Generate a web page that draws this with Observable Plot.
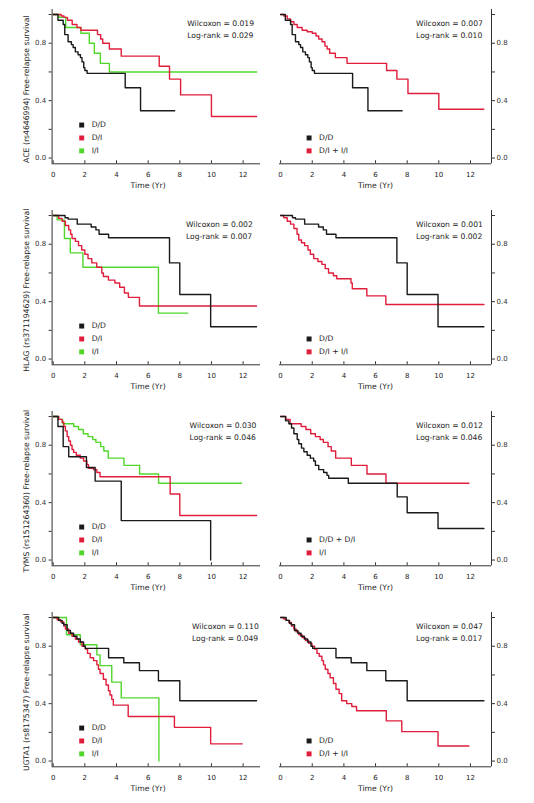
<!DOCTYPE html>
<html><head><meta charset="utf-8">
<script src="https://cdn.jsdelivr.net/npm/d3@7"></script>
<script src="https://cdn.jsdelivr.net/npm/@observablehq/plot@0.6"></script>
<style>
html,body{margin:0;padding:0;background:#fff;}
#chart{position:relative;width:534px;height:803px;overflow:hidden;background:#fff;}
#chart svg{position:absolute;}
</style></head><body><div id="chart"></div>
<script>
// ---------- data: Kaplan-Meier steps [time (yr), survival] ----------
const aceDD  = [[0,1],[0.3,0.96],[0.63,0.93],[0.73,0.86],[0.94,0.81],[1.15,0.79],[1.26,0.77],[1.4,0.74],[1.57,0.72],[1.72,0.70],[1.82,0.67],[1.93,0.63],[2.0,0.61],[2.14,0.59],[4.55,0.49],[5.52,0.33],[7.68,0.33]];
const aceDI  = [[0,1],[0.5,0.99],[0.68,0.98],[0.9,0.96],[1.2,0.93],[1.5,0.91],[1.75,0.89],[2.8,0.86],[3.0,0.83],[3.13,0.80],[3.55,0.76],[4.3,0.71],[6.7,0.64],[7.35,0.55],[8.05,0.44],[10.0,0.29],[12.85,0.29]];
const aceII  = [[0,1],[0.36,0.98],[0.79,0.91],[1.75,0.87],[2.28,0.80],[2.6,0.73],[2.98,0.66],[3.55,0.60],[12.85,0.60]];
const aceDII = [[0,1],[0.2,0.99],[0.42,0.97],[0.63,0.95],[0.84,0.93],[1.05,0.91],[1.36,0.89],[1.68,0.88],[2.0,0.87],[2.24,0.85],[2.41,0.83],[2.62,0.81],[2.8,0.78],[2.94,0.76],[3.1,0.73],[3.46,0.70],[4.2,0.66],[6.7,0.61],[7.35,0.55],[8.05,0.45],[10.0,0.34],[12.85,0.34]];

const hlagDD  = [[0,1],[0.75,0.985],[0.94,0.975],[1.52,0.94],[2.4,0.92],[2.7,0.90],[2.9,0.87],[3.5,0.845],[7.35,0.67],[8.0,0.45],[9.95,0.225],[12.85,0.225]];
const hlagDI  = [[0,1],[0.35,0.98],[0.56,0.96],[0.77,0.93],[0.98,0.90],[1.1,0.87],[1.19,0.84],[1.4,0.82],[1.6,0.79],[1.8,0.76],[2.0,0.73],[2.2,0.70],[2.44,0.67],[2.75,0.64],[3.07,0.60],[3.17,0.575],[3.49,0.55],[3.9,0.53],[4.2,0.50],[4.5,0.46],[4.75,0.43],[5.45,0.37],[12.85,0.37]];
const hlagII  = [[0,1],[0.25,0.97],[0.71,0.84],[1.08,0.74],[1.88,0.64],[6.65,0.32],[8.5,0.32]];
const hlagDII = [[0,1],[0.2,0.985],[0.42,0.96],[0.63,0.94],[0.84,0.91],[1.04,0.87],[1.15,0.83],[1.32,0.81],[1.52,0.79],[1.73,0.76],[1.88,0.73],[2.09,0.70],[2.36,0.68],[2.61,0.66],[2.82,0.63],[3.03,0.60],[3.34,0.58],[3.55,0.56],[4.45,0.53],[4.53,0.49],[5.45,0.44],[6.65,0.38],[12.85,0.38]];

const tymsDD  = [[0,1],[0.3,0.93],[0.63,0.79],[0.98,0.72],[2.1,0.645],[2.65,0.55],[4.3,0.275],[9.95,0.0]];
const tymsDI  = [[0,1],[0.35,0.98],[0.56,0.96],[0.67,0.93],[0.77,0.90],[0.88,0.86],[0.98,0.83],[1.09,0.80],[1.19,0.77],[1.29,0.75],[1.46,0.73],[1.71,0.71],[1.92,0.69],[2.13,0.665],[2.23,0.64],[2.55,0.63],[2.76,0.61],[2.96,0.58],[7.39,0.46],[8.0,0.31],[12.85,0.31]];
const tymsII  = [[0,1],[0.33,0.98],[0.6,0.95],[1.3,0.93],[1.6,0.91],[1.9,0.88],[2.2,0.86],[2.5,0.84],[2.7,0.82],[3.0,0.79],[3.2,0.76],[3.48,0.71],[4.47,0.66],[5.46,0.60],[6.66,0.535],[11.9,0.535]];
const tymsDDI = [[0,1],[0.31,0.97],[0.52,0.95],[0.69,0.92],[0.84,0.88],[1.05,0.84],[1.15,0.81],[1.32,0.78],[1.47,0.755],[1.68,0.73],[1.88,0.71],[2.09,0.69],[2.2,0.66],[2.41,0.63],[2.72,0.61],[2.93,0.59],[3.04,0.57],[4.28,0.535],[7.37,0.44],[8.0,0.33],[9.95,0.22],[12.85,0.22]];

const ugtDD  = [[0,1],[0.35,0.98],[0.56,0.96],[0.67,0.95],[0.88,0.91],[1.09,0.89],[1.29,0.87],[1.5,0.85],[1.71,0.83],[1.92,0.80],[2.03,0.785],[3.5,0.72],[4.46,0.685],[5.45,0.63],[6.65,0.56],[8.0,0.42],[12.85,0.42]];
const ugtDI  = [[0,1],[0.25,0.985],[0.46,0.97],[0.67,0.94],[0.77,0.92],[0.98,0.89],[1.19,0.87],[1.4,0.85],[1.6,0.83],[1.82,0.80],[2.03,0.78],[2.17,0.75],[2.34,0.72],[2.55,0.70],[2.76,0.67],[2.86,0.64],[2.96,0.61],[3.17,0.57],[3.34,0.53],[3.49,0.49],[3.59,0.46],[3.7,0.43],[3.8,0.39],[4.74,0.31],[7.66,0.235],[9.95,0.12],[11.95,0.12]];
const ugtII  = [[0,1],[0.84,0.88],[1.71,0.81],[2.76,0.74],[2.96,0.665],[3.7,0.55],[4.3,0.44],[6.68,0.0]];
const ugtDII = [[0,1],[0.2,0.99],[0.35,0.98],[0.52,0.965],[0.69,0.94],[0.84,0.92],[0.98,0.90],[1.15,0.88],[1.36,0.86],[1.57,0.84],[1.77,0.82],[1.98,0.80],[2.15,0.78],[2.3,0.75],[2.44,0.73],[2.61,0.70],[2.71,0.67],[2.82,0.64],[2.99,0.61],[3.13,0.58],[3.34,0.54],[3.5,0.50],[3.7,0.47],[3.86,0.42],[4.18,0.40],[4.5,0.38],[4.8,0.35],[6.68,0.28],[7.66,0.205],[9.95,0.105],[11.9,0.105]];

const geneLabels = ["ACE (rs4646994)", "HLAG (rs371194629)", "TYMS (rs151264360)", "UGTA1 (rs8175347)"];
const wilcoxon = ["0.019", "0.007", "0.002", "0.001", "0.030", "0.012", "0.110", "0.047"];
const logrank  = ["0.029", "0.010", "0.007", "0.002", "0.046", "0.046", "0.049", "0.017"];
const legendThree = ["D/D", "D/I", "I/I"];
const legendDominant = ["D/D", "D/I + I/I"];
const legendRecessive = ["D/D + D/I", "I/I"];
const xTicks = [0, 2, 4, 6, 8, 10, 12];
const yTicks = [0, 0.2, 0.4, 0.6, 0.8, 1.0];
const yTickLabeled = [0, 0.4, 0.8];

// ---------- styles ----------
const BLACK = "#1a1a1a", RED = "#e01e3c", GREEN = "#52d62c", AXIS = "#333", TEXT = "#222";
const FONT = "DejaVu Sans";

const panels = [
  {row:0, side:"left",  curves:[aceDD, aceDI, aceII],   colors:[BLACK,RED,GREEN], legend:legendThree,     statX:8.47},
  {row:0, side:"right", curves:[aceDD, aceDII],         colors:[BLACK,RED],       legend:legendDominant,  statX:8.56},
  {row:1, side:"left",  curves:[hlagDD, hlagDI, hlagII],colors:[BLACK,RED,GREEN], legend:legendThree,     statX:8.39},
  {row:1, side:"right", curves:[hlagDD, hlagDII],       colors:[BLACK,RED],       legend:legendDominant,  statX:8.56},
  {row:2, side:"left",  curves:[tymsDD, tymsDI, tymsII],colors:[BLACK,RED,GREEN], legend:legendThree,     statX:8.62},
  {row:2, side:"right", curves:[tymsDDI, tymsII],       colors:[BLACK,RED],       legend:legendRecessive, statX:8.56},
  {row:3, side:"left",  curves:[ugtDD, ugtDI, ugtII],   colors:[BLACK,RED,GREEN], legend:legendThree,     statX:8.77},
  {row:3, side:"right", curves:[ugtDD, ugtDII],         colors:[BLACK,RED],       legend:legendDominant,  statX:8.56}
];
const rowTops = [0, 201, 402, 602.7];

const chart = document.getElementById("chart");

panels.forEach((p, k) => {
  const isLeft = p.side === "left";
  const xDomain = isLeft ? [-0.07, 13.1] : [-0.07, 13.33];
  const yDomain = [-0.04, 1.035];
  const marks = [];
  // axis lines
  marks.push(Plot.ruleY([yDomain[0]], {stroke: AXIS, strokeWidth: 1}));
  marks.push(Plot.ruleX([isLeft ? xDomain[0] : xDomain[1]], {stroke: AXIS, strokeWidth: 1}));
  // inward x ticks
  marks.push(Plot.ruleX(xTicks, {y1: yDomain[0], y2: yDomain[0] + 0.021, stroke: AXIS}));
  marks.push(Plot.axisX({ticks: xTicks, tickSize: 0, tickPadding: 8, fontSize: 7, color: TEXT, label: null}));
  marks.push(Plot.axisY({anchor: p.side, ticks: yTicks, tickSize: 3, tickPadding: isLeft ? 3 : 2,
    tickFormat: d => yTickLabeled.includes(d) ? d.toFixed(1) : "", fontSize: 7, color: AXIS, label: null}));
  // KM curves (drawn last-first so black sits on top)
  const order = p.curves.map((c, i) => i).reverse();
  order.forEach(i => {
    marks.push(Plot.line(p.curves[i], {x: d => d[0], y: d => d[1], curve: "step-after",
      stroke: p.colors[i], strokeWidth: 1.4}));
  });
  // legend
  const n = p.legend.length;
  p.legend.forEach((lab, i) => {
    const yv = 0.05 + (n - 1 - i) * 0.09;
    marks.push(Plot.dot([lab], {x: 1.8, y: yv, symbol: "square", r: 2.8, fill: p.colors[i], stroke: "none"}));
    marks.push(Plot.text([lab], {x: 1.8, y: yv, dx: 10, text: d => d, textAnchor: "start", fontSize: 7.6, fill: TEXT}));
  });
  // statistics
  const stats = ["Wilcoxon = " + wilcoxon[k], "Log-rank = " + logrank[k]];
  marks.push(Plot.text(stats, {x: p.statX, y: (d, i) => [0.935, 0.855][i], text: d => d, textAnchor: "start", fontSize: 7.6, fill: TEXT}));
  // axis titles
  marks.push(Plot.text(["Time (Yr)"], {x: 6, frameAnchor: "bottom", dy: 24.5, text: d => d, fontSize: 7.7, fill: TEXT}));
  if (isLeft) {
    marks.push(Plot.text([geneLabels[p.row] + " Free-relapse survival"], {y: 0.48, frameAnchor: "left", dx: -26,
      rotate: -90, textAnchor: "middle", lineAnchor: "middle", text: d => d, fontSize: 7.7, fill: TEXT}));
  }
  const svg = Plot.plot({
    width: 267, height: 200,
    marginLeft: isLeft ? 51.6 : 12,
    marginRight: isLeft ? 7 : 43,
    marginTop: 9, marginBottom: 36.7,
    x: {domain: xDomain, label: null},
    y: {domain: yDomain, label: null},
    style: {fontFamily: FONT, fontSize: "7.5px", color: TEXT, background: "transparent", overflow: "visible"},
    marks
  });
  svg.style.left = (isLeft ? 0 : 267) + "px";
  svg.style.top = rowTops[p.row] + "px";
  chart.appendChild(svg);
});
</script></body></html>
